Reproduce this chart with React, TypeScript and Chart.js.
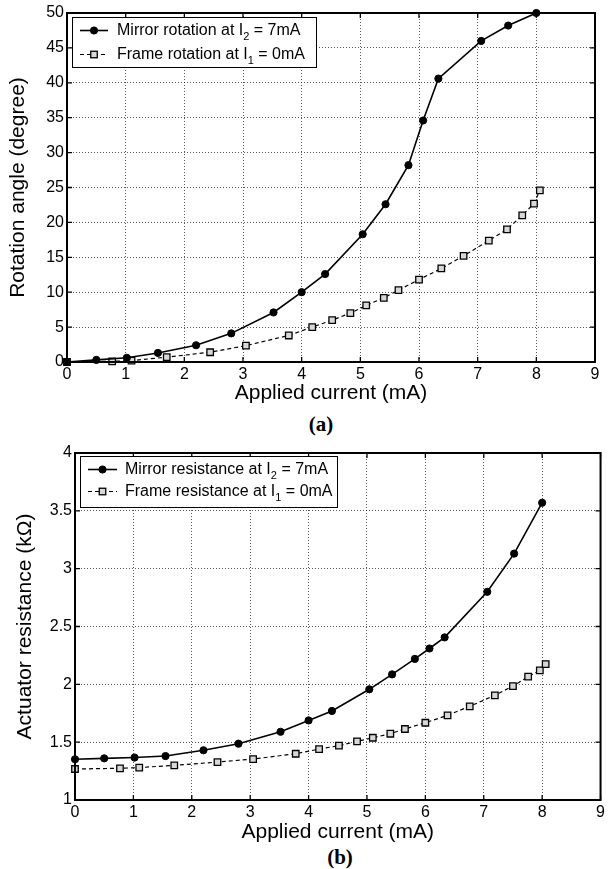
import React, { useEffect, useRef } from "react";
import { Chart, registerables } from "chart.js";

Chart.register(...registerables);

// ---------------- data ----------------
const mirrorCurrent = [0, 0.5, 1.02, 1.55, 2.2, 2.8, 3.52, 4.0, 4.4, 5.04, 5.43, 5.82, 6.07, 6.33, 7.06, 7.52, 8.0];
const frameCurrent = [0, 0.77, 1.1, 1.7, 2.44, 3.05, 3.78, 4.18, 4.52, 4.83, 5.1, 5.4, 5.65, 6.0, 6.38, 6.76, 7.19, 7.5, 7.76, 7.96, 8.06];

const mirrorRotation = [0, 0.3, 0.6, 1.3, 2.4, 4.1, 7.1, 10.0, 12.6, 18.3, 22.6, 28.2, 34.6, 40.6, 46.0, 48.2, 50.0];
const frameRotation = [0, 0.1, 0.2, 0.7, 1.4, 2.35, 3.8, 5.0, 6.0, 7.0, 8.1, 9.2, 10.3, 11.8, 13.4, 15.2, 17.4, 19.0, 21.0, 22.7, 24.6];

const mirrorResistance = [1.352, 1.36, 1.367, 1.38, 1.43, 1.487, 1.59, 1.688, 1.77, 1.957, 2.086, 2.22, 2.31, 2.406, 2.8, 3.13, 3.57];
const frameResistance = [1.268, 1.274, 1.28, 1.3, 1.328, 1.354, 1.4, 1.44, 1.47, 1.507, 1.538, 1.573, 1.614, 1.668, 1.732, 1.81, 1.905, 1.985, 2.066, 2.12, 2.175];

const legendRotation = [
  ["Mirror rotation at I", "2", " = 7mA"],
  ["Frame rotation at I", "1", " = 0mA"],
];
const legendResistance = [
  ["Mirror resistance at I", "2", " = 7mA"],
  ["Frame resistance at I", "1", " = 0mA"],
];

const xTitle = "Applied current (mA)";
const yTitleTop = "Rotation angle (degree)";
const yTitleBottom = "Actuator resistance (k\u03A9)";

// ---------------- helpers ----------------
const FONT = "'Liberation Sans', Arial, sans-serif";

const toPoints = (xs: number[], ys: number[]) => xs.map((x, i) => ({ x, y: ys[i] }));

function mirrorDataset(label: string, data: any[]) {
  return {
    label,
    data,
    borderColor: "#000",
    borderWidth: 1.6,
    pointStyle: "circle",
    pointRadius: 3.6,
    pointBackgroundColor: "#000",
    pointBorderColor: "#000",
    pointBorderWidth: 1,
    tension: 0,
    clip: false,
  };
}

function frameDataset(label: string, data: any[]) {
  return {
    label,
    data,
    borderColor: "#000",
    borderWidth: 1.2,
    borderDash: [4, 3],
    pointStyle: "rect",
    pointRadius: 4.6,
    pointBackgroundColor: "#d8d8d8",
    pointBorderColor: "#000",
    pointBorderWidth: 1.3,
    tension: 0,
    clip: false,
  };
}

const framePlugin = {
  id: "frameTicks",
  afterDraw(chart: any) {
    const { ctx, chartArea } = chart;
    const { left, right, top, bottom } = chartArea;
    const xs = chart.scales.x;
    const ys = chart.scales.y;
    ctx.save();
    ctx.setLineDash([]);
    ctx.strokeStyle = "#000";
    ctx.lineWidth = 1.3;
    const tl = 5;
    ctx.beginPath();
    xs.ticks.forEach((t: any) => {
      const px = xs.getPixelForValue(t.value);
      ctx.moveTo(px, bottom);
      ctx.lineTo(px, bottom - tl);
      ctx.moveTo(px, top);
      ctx.lineTo(px, top + tl);
    });
    ys.ticks.forEach((t: any) => {
      const py = ys.getPixelForValue(t.value);
      ctx.moveTo(left, py);
      ctx.lineTo(left + tl, py);
      ctx.moveTo(right, py);
      ctx.lineTo(right - tl, py);
    });
    ctx.stroke();
    ctx.lineWidth = 2;
    ctx.strokeRect(left, top, right - left, bottom - top);
    ctx.restore();
  },
};

function makeLegend(
  rows: string[][],
  box: { x: number; y: number; w: number; h: number },
  rowY: number[],
  sampleX: [number, number],
  textX: number
) {
  return {
    id: "boxLegend",
    afterDraw(chart: any) {
      const { ctx } = chart;
      ctx.save();
      ctx.setLineDash([]);
      ctx.fillStyle = "#fff";
      ctx.fillRect(box.x, box.y, box.w, box.h);
      ctx.strokeStyle = "#000";
      ctx.lineWidth = 1;
      ctx.strokeRect(box.x + 0.5, box.y + 0.5, box.w, box.h);
      rows.forEach((row, i) => {
        const ds = chart.data.datasets[i];
        const y = rowY[i];
        ctx.save();
        ctx.strokeStyle = "#000";
        ctx.lineWidth = ds.borderWidth;
        ctx.setLineDash(ds.borderDash || []);
        ctx.beginPath();
        ctx.moveTo(sampleX[0], y);
        ctx.lineTo(sampleX[1], y);
        ctx.stroke();
        ctx.setLineDash([]);
        const mx = (sampleX[0] + sampleX[1]) / 2;
        ctx.lineWidth = ds.pointBorderWidth;
        ctx.fillStyle = ds.pointBackgroundColor;
        if (ds.pointStyle === "circle") {
          ctx.beginPath();
          ctx.arc(mx, y, ds.pointRadius, 0, Math.PI * 2);
          ctx.fill();
          ctx.stroke();
        } else {
          const s = ds.pointRadius * Math.SQRT1_2;
          ctx.fillRect(mx - s, y - s, 2 * s, 2 * s);
          ctx.strokeRect(mx - s, y - s, 2 * s, 2 * s);
        }
        ctx.restore();
        ctx.fillStyle = "#000";
        ctx.textBaseline = "middle";
        ctx.textAlign = "left";
        ctx.font = `16px ${FONT}`;
        let x = textX;
        ctx.fillText(row[0], x, y);
        x += ctx.measureText(row[0]).width;
        ctx.font = `11px ${FONT}`;
        ctx.fillText(row[1], x, y + 6);
        x += ctx.measureText(row[1]).width;
        ctx.font = `16px ${FONT}`;
        ctx.fillText(row[2], x, y);
      });
      ctx.restore();
    },
  };
}

const plainNumber = (v: any) => String(Number(Number(v).toFixed(3)));

function makeOptions(opts: {
  padTop: number;
  padRight: number;
  yWidth: number;
  xHeight: number;
  yMin: number;
  yMax: number;
  yStep: number;
  yTitle: string;
  yTitlePad: number;
}) {
  const gridCommon = {
    color: "rgba(0,0,0,0.65)",
    lineWidth: 1,
    drawTicks: false,
  };
  return {
    responsive: false,
    animation: false,
    devicePixelRatio: 1,
    layout: { padding: { top: opts.padTop, right: opts.padRight, left: 0, bottom: 0 } },
    plugins: { legend: { display: false }, tooltip: { enabled: false } },
    scales: {
      x: {
        type: "linear",
        min: 0,
        max: 9,
        ticks: {
          stepSize: 1,
          color: "#000",
          font: { family: FONT, size: 16 },
          padding: 3,
          maxRotation: 0,
          callback: plainNumber,
        },
        grid: gridCommon,
        border: { display: false, dash: [1, 2] },
        title: {
          display: true,
          text: xTitle,
          color: "#000",
          font: { family: FONT, size: 21 },
          padding: { top: 0, bottom: 0 },
        },
        afterFit(scale: any) {
          scale.height = opts.xHeight;
        },
      },
      y: {
        type: "linear",
        min: opts.yMin,
        max: opts.yMax,
        ticks: {
          stepSize: opts.yStep,
          color: "#000",
          font: { family: FONT, size: 16 },
          padding: 3,
          callback: plainNumber,
        },
        grid: gridCommon,
        border: { display: false, dash: [1, 2] },
        title: {
          display: true,
          text: opts.yTitle,
          color: "#000",
          font: { family: FONT, size: 21 },
          padding: { top: opts.yTitlePad, bottom: 0 },
        },
        afterFit(scale: any) {
          scale.width = opts.yWidth;
        },
      },
    },
  };
}

function useChart(ref: React.RefObject<HTMLCanvasElement>, build: () => any) {
  useEffect(() => {
    if (!ref.current) return;
    const chart = new Chart(ref.current, build());
    return () => chart.destroy();
  }, []);
}

export default function App() {
  const topRef = useRef<HTMLCanvasElement>(null);
  const botRef = useRef<HTMLCanvasElement>(null);

  useChart(topRef, () => ({
    type: "line",
    data: {
      datasets: [
        mirrorDataset("Mirror rotation at I2 = 7mA", toPoints(mirrorCurrent, mirrorRotation)),
        frameDataset("Frame rotation at I1 = 0mA", toPoints(frameCurrent, frameRotation)),
      ],
    },
    options: makeOptions({
      padTop: 13,
      padRight: 13,
      yWidth: 67,
      xHeight: 44,
      yMin: 0,
      yMax: 50,
      yStep: 5,
      yTitle: yTitleTop,
      yTitlePad: 6,
    }),
    plugins: [framePlugin, makeLegend(legendRotation, { x: 72, y: 17, w: 244, h: 50 }, [30.5, 54.5], [80, 108], 117)],
  }));

  useChart(botRef, () => ({
    type: "line",
    data: {
      datasets: [
        mirrorDataset("Mirror resistance at I2 = 7mA", toPoints(mirrorCurrent, mirrorResistance)),
        frameDataset("Frame resistance at I1 = 0mA", toPoints(frameCurrent, frameResistance)),
      ],
    },
    options: makeOptions({
      padTop: 23,
      padRight: 4,
      yWidth: 75,
      xHeight: 45,
      yMin: 1,
      yMax: 4,
      yStep: 0.5,
      yTitle: yTitleBottom,
      yTitlePad: 13,
    }),
    plugins: [framePlugin, makeLegend(legendResistance, { x: 80, y: 26, w: 257, h: 51 }, [39.5, 61.5], [88, 117], 125)],
  }));

  const caption: React.CSSProperties = {
    position: "absolute",
    width: 100,
    textAlign: "center",
    font: "bold 21px 'Liberation Serif', 'Times New Roman', serif",
    lineHeight: "24px",
    color: "#000",
  };

  return (
    <div style={{ position: "fixed", left: 0, top: 0, width: 608, height: 869, background: "#fff", overflow: "hidden" }}>
      <canvas ref={topRef} width={608} height={406} style={{ position: "absolute", left: 0, top: 0 }} />
      <div style={{ ...caption, left: 321 - 50, top: 412 }}>(a)</div>
      <canvas ref={botRef} width={608} height={415} style={{ position: "absolute", left: 0, top: 430 }} />
      <div style={{ ...caption, left: 340 - 50, top: 845 }}>(b)</div>
    </div>
  );
}
